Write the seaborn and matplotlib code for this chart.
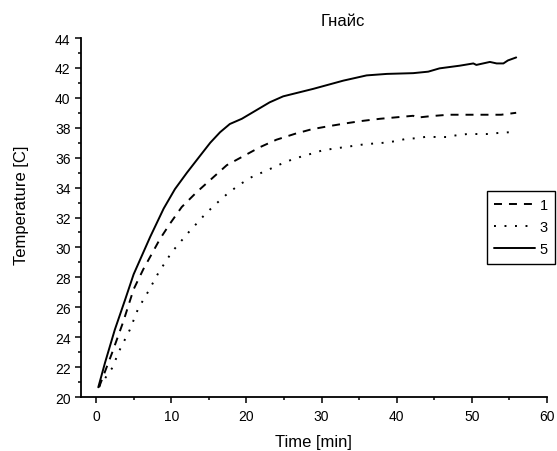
import matplotlib
matplotlib.use("Agg")
import matplotlib.pyplot as plt
from matplotlib.ticker import MultipleLocator
import seaborn as sns
import pandas as pd

# ---- data ----
t5 = [0.3, 1.2, 2.5, 3.9, 5.0, 7.2, 9.0, 10.5, 12.1, 13.8, 15.2, 16.5, 17.8, 19.4, 23.1,
      24.9, 28.9, 32.9, 36.0, 38.7, 42.2, 44.2, 45.7, 48.4, 50.2, 50.6, 52.4, 53.3,
      54.2, 54.8, 55.9]
T5 = [20.65, 22.3, 24.5, 26.55, 28.2, 30.7, 32.6, 33.9, 35.0, 36.1, 37.0, 37.7, 38.25, 38.6,
      39.7, 40.1, 40.6, 41.15, 41.5, 41.6, 41.65, 41.75, 41.97, 42.15, 42.3, 42.2, 42.4,
      42.3, 42.3, 42.5, 42.7]

t1 = [0.4, 2.1, 3.6, 5.0, 6.3, 7.4, 8.5, 9.8, 11.4, 13.4, 15.4, 17.4, 19.6, 21.8, 24.0,
      26.5, 28.7, 30.9, 33.3, 35.3, 37.8, 40.0, 42.2, 42.6, 44.6, 46.9, 49.3, 51.5, 53.9,
      55.9]
T1 = [20.65, 22.9, 25.0, 27.2, 28.55, 29.55, 30.56, 31.56, 32.7, 33.7, 34.6, 35.5, 36.1, 36.7,
      37.2, 37.6, 37.9, 38.1, 38.3, 38.45, 38.6, 38.7, 38.8, 38.67, 38.78, 38.87, 38.87,
      38.87, 38.87, 39.0]

t3 = [0.4, 1.2, 2.1, 3.2, 4.5, 5.6, 7.0, 8.3, 10.1, 12.3, 14.3, 15.6, 17.5, 19.1, 20.7,
      23.4, 24.7, 26.2, 27.5, 28.9, 30.2, 31.6, 33.0, 34.4, 35.8, 38.4, 39.8, 41.2, 42.6,
      44.0, 45.3, 46.6, 48.0, 49.4, 50.7, 52.0, 53.5, 55.0]
T3 = [20.7, 21.25, 21.9, 23.2, 24.5, 25.9, 27.1, 28.3, 29.7, 31.0, 32.1, 32.75, 33.6, 34.2,
      34.7, 35.3, 35.6, 35.9, 36.1, 36.3, 36.5, 36.6, 36.7, 36.8, 36.9, 37.0, 37.1, 37.25,
      37.3, 37.4, 37.38, 37.38, 37.5, 37.58, 37.58, 37.58, 37.65, 37.7]

labels = ["1", "3", "5"]
title = "Гнайс"
xlabel = "Time [min]"
ylabel = "Temperature [C]"

sns.set_style("ticks")
plt.rcParams["font.family"] = ["Liberation Sans", "DejaVu Sans"]
plt.rcParams["text.color"] = "black"
plt.rcParams["axes.labelcolor"] = "black"
plt.rcParams["xtick.color"] = "black"
plt.rcParams["ytick.color"] = "black"

W, H = 557, 452
fig = plt.figure(figsize=(W / 100, H / 100), dpi=100)
ax = fig.add_axes([81 / W, 1 - 398 / H, (547 - 81) / W, (398 - 39) / H])

series = [
    (t1, T1, labels[0], (0, (4.1, 3.6)), 1.4),
    (t3, T3, labels[1], (0, (1.0, 4.4)), 1.4),
    (t5, T5, labels[2], "-", 1.4),
]
handles = []
for t, T, lab, ls, lw in series:
    df = pd.DataFrame({"t": t, "T": T})
    sns.lineplot(data=df, x="t", y="T", ax=ax, color="black", linestyle=ls,
                 linewidth=lw, label=lab, legend=False)
    handles.append(ax.lines[-1])

ax.set_xlim(-2, 60)
ax.set_ylim(20, 44)
ax.xaxis.set_major_locator(MultipleLocator(10))
ax.xaxis.set_minor_locator(MultipleLocator(5))
ax.yaxis.set_major_locator(MultipleLocator(2))
ax.yaxis.set_minor_locator(MultipleLocator(1))
ax.tick_params(which="major", direction="out", length=4, width=1.1, colors="black",
               labelsize=10)
ax.tick_params(axis="x", which="major", pad=5)
ax.tick_params(axis="y", which="major", pad=3, length=4.5)
ax.tick_params(which="minor", direction="out", length=2.5, width=1.1, colors="black")
for s in ["top", "right"]:
    ax.spines[s].set_visible(False)
for s in ["left", "bottom"]:
    ax.spines[s].set_linewidth(1.3)
    ax.spines[s].set_color("black")

ax.set_xlabel(xlabel, fontsize=12, color="black")
ax.set_ylabel(ylabel, fontsize=12, color="black")
ax.xaxis.set_label_coords(0.498, -0.103)
ax.yaxis.set_label_coords(-0.112, 0.538)
fig.text(343 / W, 1 - 21.5 / H, title, ha="center", va="center", fontsize=12,
         color="black")

leg = fig.legend(handles=handles, labels=labels, loc="upper left",
                 bbox_to_anchor=(487 / W, 1 - 192 / H), frameon=True, fancybox=False,
                 edgecolor="black", fontsize=10.5, handlelength=2.8, handletextpad=0.3,
                 borderpad=0.5, labelspacing=0.55, borderaxespad=0, framealpha=1)
leg.get_frame().set_linewidth(1.0)
for txt in leg.get_texts():
    txt.set_color("black")

fig.savefig("out.png", dpi=100)
